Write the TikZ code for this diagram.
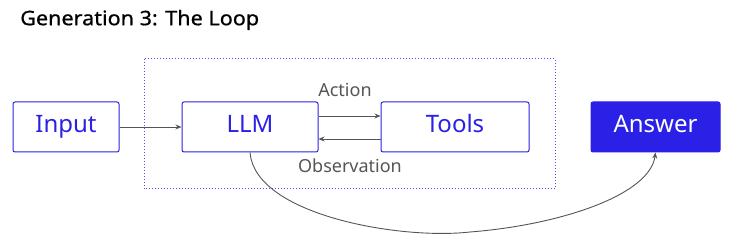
\documentclass[tikz,border=0pt]{standalone}
\usepackage{fontspec}
\setmainfont{Noto Sans}
\newfontfamily\titlefont[FakeBold=0.8, FakeStretch=1.08]{Noto Sans}
\usetikzlibrary{arrows.meta}
\definecolor{loopblue}{HTML}{2A20E6}
\definecolor{arrowgray}{HTML}{555555}
\tikzset{
  box/.style = {draw = loopblue, rounded corners = 2pt, line width = 1pt, minimum height = 50pt, text height = 17pt, text depth = 5pt, text = loopblue, font = \fontsize{24}{27}\selectfont},
  link/.style = {draw = arrowgray, line width = 0.9pt, -{Stealth[length=6pt,width=5pt]}},
  lbl/.style = {text = arrowgray, font = \fontsize{18}{21}\selectfont}
}
\begin{document}
\begin{tikzpicture}[x=1pt, y=-1pt]
\useasboundingbox (0,0) rectangle (737,248);
\node[anchor = west, inner sep = 0pt, font = \titlefont\fontsize{20}{24}\selectfont] (title) at (20,20) {Generation 3: The Loop};
\draw[draw = loopblue!80!white, dotted, line width = 1pt] (144,59) rectangle (555,189);
\node[box, minimum width = 106pt] (input) at (66,127) {Input};
\node[box, minimum width = 136pt] (llm) at (250,127) {LLM};
\node[box, minimum width = 148pt] (tools) at (455,127) {Tools};
\node[box, fill = loopblue, text = white, minimum width = 129pt] (answer) at (655.5,127) {Answer};
\draw[link] (input.east) -- (llm.west);
\draw[link] (llm.east |- 0,116) -- (tools.west |- 0,116);
\draw[link] (tools.west |- 0,139) -- (llm.east |- 0,139);
\node[lbl] (action) at (345,90) {Action};
\node[lbl] (observation) at (350,166) {Observation};
\draw[link] (llm.south) .. controls (255,215) and (400,240) .. (470,232) .. controls (560,225) and (650,195) .. (answer.south);
\end{tikzpicture}
\end{document}
